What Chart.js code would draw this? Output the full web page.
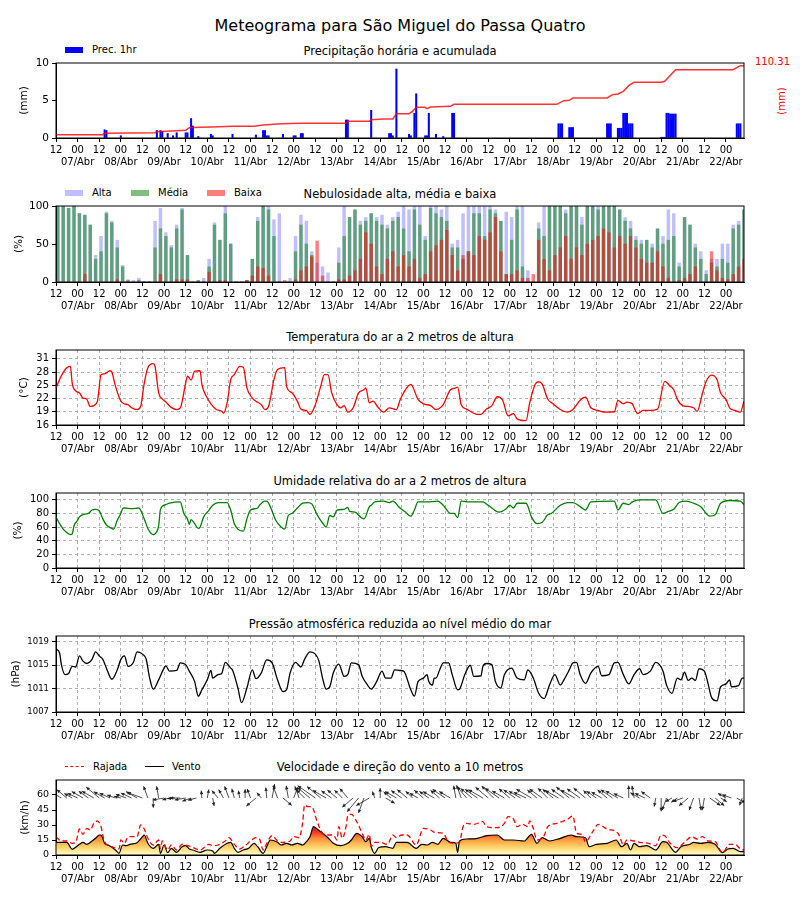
<!DOCTYPE html>
<html lang="pt">
<head>
<meta charset="utf-8">
<title>Meteograma</title>
<script src="https://cdn.jsdelivr.net/npm/chart.js@4.4.1/dist/chart.umd.min.js"></script>
<style>
  body { margin: 0; background: #fff; font-family: "DejaVu Sans", sans-serif; color: #000; }
  #page { position: relative; width: 800px; height: 900px; overflow: hidden; }
  canvas { position: absolute; left: 0; }
  .title { position: absolute; left: 0; width: 800px; text-align: center; white-space: nowrap; }
  .main { top: 15px; font-size: 16px; line-height: 22px; }
  .panel { font-size: 11.5px; line-height: 14px; }
  .legend { position: absolute; font-size: 10px; line-height: 12px; white-space: nowrap; }
  .swatch { position: absolute; width: 18px; height: 6px; }
  .stroke { position: absolute; width: 19px; height: 0; }
</style>
</head>
<body>
<div id="page">
  <div class="title main">Meteograma para São Miguel do Passa Quatro</div>

  <div class="title panel" style="top:44px">Precipitação horária e acumulada</div>
  <div class="swatch" style="left:65px;top:47px;background:#0000ff"></div>
  <div class="legend" style="left:92px;top:44px">Prec. 1hr</div>
  <div id="accTotal" class="legend" style="left:755px;top:56px;color:#ff0000"></div>
  <div class="legend" style="left:767px;top:95px;width:30px;text-align:center;color:#ff0000;transform:rotate(-90deg)">(mm)</div>
  <canvas id="precipChart" width="800" height="125" style="top:53px"></canvas>

  <div class="title panel" style="top:187px">Nebulosidade alta, média e baixa</div>
  <div class="swatch" style="left:65px;top:190px;background:rgba(0,0,255,0.25)"></div>
  <div class="legend" style="left:92px;top:187px">Alta</div>
  <div class="swatch" style="left:131px;top:190px;background:rgba(0,128,0,0.5)"></div>
  <div class="legend" style="left:158px;top:187px">Média</div>
  <div class="swatch" style="left:207px;top:190px;background:rgba(255,0,0,0.5)"></div>
  <div class="legend" style="left:234px;top:187px">Baixa</div>
  <canvas id="cloudChart" width="800" height="126" style="top:196px"></canvas>

  <div class="title panel" style="top:330px">Temperatura do ar a 2 metros de altura</div>
  <canvas id="tempChart" width="800" height="125" style="top:340px"></canvas>

  <div class="title panel" style="top:474px">Umidade relativa do ar a 2 metros de altura</div>
  <canvas id="humidChart" width="800" height="125" style="top:483px"></canvas>

  <div class="title panel" style="top:617px">Pressão atmosférica reduzida ao nível médio do mar</div>
  <canvas id="pressChart" width="800" height="126" style="top:626px"></canvas>

  <div class="title panel" style="top:760px">Velocidade e direção do vento a 10 metros</div>
  <div class="stroke" style="left:65px;top:766px;border-top:1.5px dashed #ff0000"></div>
  <div class="legend" style="left:93px;top:761px">Rajada</div>
  <div class="stroke" style="left:145px;top:766px;border-top:1.5px solid #000"></div>
  <div class="legend" style="left:172px;top:761px">Vento</div>
  <canvas id="windChart" width="800" height="125" style="top:770px"></canvas>
</div>

<script>
// time axis: hours since 07/Abr 12h
const LAST_HOUR = 382;
const hourLabels = ["12", "00"];
const dayLabels = ["07/Abr", "08/Abr", "09/Abr", "10/Abr", "11/Abr", "12/Abr", "13/Abr", "14/Abr",
  "15/Abr", "16/Abr", "17/Abr", "18/Abr", "19/Abr", "20/Abr", "21/Abr", "22/Abr"];

// [hour, mm]
const precipHourly = [[27,1.1],[28,1.0],[36,0.3],[56,1.0],[58,1.0],[59,0.9],[62,0.6],[65,0.3],[67,0.7],
  [72,0.7],[73,0.7],[75,2.6],[76,1.6],[79,0.2],[86,0.5],[87,0.3],[98,0.5],[111,0.4],[115,1.0],[116,1.0],
  [117,0.3],[118,0.3],[126,0.5],[132,0.3],[133,0.3],[136,0.6],[137,0.6],[161,2.4],[162,2.4],[175,3.7],
  [185,0.6],[186,0.6],[187,0.3],[189,9.2],[196,0.5],[197,0.3],[199,3.3],[200,5.9],[205,0.3],[206,0.3],
  [207,3.3],[211,0.5],[215,0.2],[220,3.3],[221,3.3],[279,1.9],[280,1.9],[281,1.9],[285,1.4],[286,1.4],
  [287,1.4],[306,1.9],[307,1.9],[308,1.9],[312,1.3],[313,1.3],[314,1.3],[315,3.3],[316,3.3],[317,3.3],
  [318,1.9],[319,1.9],[320,1.9],[336,0.1],[337,0.1],[338,0.1],[339,3.3],[340,3.3],[341,3.2],[342,3.2],
  [343,3.2],[344,3.2],[378,1.9],[379,1.9],[380,1.9]];

// [hour, accumulated mm]
const precipAccum = [[0,5.1],[26,5.1],[27,7.1],[55,8.1],[56,9.7],[72,11.7],[74,15.8],[80,16.3],[87,16.8],
  [98,17.8],[110,17.8],[115,19.8],[125,21.9],[136,22.4],[161,22.4],[162,25.4],[174,25.4],[175,27.9],
  [182,29.0],[187,29.0],[189,37.1],[196,37.1],[198,40.7],[200,46.8],[205,46.8],[206,44.7],[208,47.3],
  [219,48.3],[221,51.4],[278,51.4],[282,57.0],[285,57.4],[287,61.0],[306,61.0],[309,66.1],[312,67.1],
  [315,71.2],[318,79.8],[321,84.9],[336,84.9],[338,86.5],[344,104.2],[376,104.2],[380,110.3],[382,110.31]];

// cloud cover (%), one value every 3 hours
const cloudHigh = [100,100,97,100,90,88,75,35,60,92, 80,55,22,3,2,5,0,0,80,97,
  65,48,75,97,35,0,2,5,30,78, 55,100,50,0,0,2,30,85,100,100, 82,90,0,5,60,88,80,40,25,20,
  12,0,45,100,85,95,80,85,90,85, 88,75,85,92,
  100,95,100,100,60,100,100,95,100,50, 55,90,100,100,100,100,100,95,80,92,
  85,100,100,15,0,78,100,100,100,100, 95,100,100,85,100,100,100,100,100,100,
  95,85,80,60,55,55,50,70,60,95, 90,25,85,75,50,40,15,30,30,50, 50,75,80,95];
const cloudMedium = [100,100,97,100,90,88,75,30,40,90, 78,45,20,2,0,2,0,0,45,70,
  60,45,70,95,35,0,2,0,20,75, 55,90,50,0,0,2,30,80,100,95, 60,0,0,0,40,75,50,35,0,0,
  0,0,25,60,85,95,75,80,90,80, 75,70,80,85,
  70,40,95,75,55,97,90,85,80,45, 45,30,40,90,90,60,95,90,80,10,
  55,95,20,0,0,70,60,100,100,100, 90,100,100,75,100,100,95,100,100,100,
  95,80,70,55,50,55,45,70,50,55, 60,20,85,75,45,30,10,25,20,30, 25,70,75,95];
const cloudLow = [0,0,0,0,0,10,0,0,0,0, 0,3,0,0,0,0,0,0,0,10,
  0,0,3,3,3,0,0,0,13,0, 2,2,0,0,0,2,8,20,18,8, 0,0,2,0,3,15,20,33,54,8,
  0,0,3,3,8,15,30,65,50,20, 10,30,40,20,
  35,20,30,5,10,40,48,55,68,35, 15,35,40,35,60,55,65,85,40,10,
  10,15,5,5,10,55,30,15,35,45, 60,30,45,35,50,55,60,70,65,45,
  60,50,60,45,30,25,25,40,20,5, 0,2,5,10,20,0,0,40,15,5, 3,10,20,30];

// [hour, °C]
const temperature = [[0,24.4],[3,27.2],[6,29.0],[8,29.3],[9,25.5],[11,23.7],[13,23.3],[15,22.1],[17,21.9],
  [19,20.2],[21,20.4],[23,21.4],[25,27.4],[27,27.6],[30,28.3],[31,28.0],[33,24.8],[36,21.4],[38,20.8],
  [40,20.6],[42,19.9],[45,19.5],[47,20.2],[49,25.5],[51,29.0],[54,29.9],[55,29.3],[57,23.3],[59,21.9],
  [61,21.2],[64,20.0],[67,19.5],[69,19.9],[72,25.5],[73,27.1],[75,26.2],[77,28.2],[80,28.3],[81,25.2],
  [84,22.1],[86,20.8],[89,19.5],[92,19.1],[93,18.7],[95,21.0],[97,26.3],[99,27.4],[102,29.3],[104,29.1],
  [106,24.4],[109,22.1],[111,21.4],[114,20.6],[116,19.5],[118,20.2],[121,26.3],[123,28.6],[127,29.0],
  [128,24.8],[131,23.3],[134,21.4],[136,19.6],[139,19.3],[141,18.4],[144,20.6],[147,24.8],[149,27.4],
  [151,27.4],[153,23.4],[156,20.6],[158,19.9],[160,20.4],[162,18.9],[165,19.9],[168,23.3],[171,24.0],
  [172,24.4],[174,21.0],[176,21.4],[179,19.9],[182,18.9],[185,19.9],[189,19.5],[191,21.6],[193,23.3],
  [197,25.2],[201,21.8],[204,20.8],[208,20.4],[211,19.5],[215,20.6],[219,24.0],[222,24.4],[223,24.6],
  [225,20.6],[228,19.6],[234,18.4],[236,18.4],[239,19.6],[242,20.4],[245,22.4],[248,21.6],[251,18.1],
  [254,18.6],[256,17.4],[261,17.0],[263,21.0],[266,25.2],[268,25.8],[270,25.2],[273,21.9],[276,20.8],
  [280,19.5],[284,18.9],[287,19.5],[291,21.6],[294,22.3],[297,19.9],[301,19.3],[305,18.9],[310,19.0],
  [312,21.6],[315,20.8],[317,21.2],[320,20.8],[321,19.9],[323,18.6],[326,19.3],[330,19.3],[334,19.6],
  [338,25.9],[341,24.8],[343,24.0],[345,21.8],[348,20.4],[351,20.2],[354,19.9],[356,19.1],[359,23.3],
  [361,25.9],[364,27.3],[367,26.3],[369,23.3],[372,21.8],[374,19.9],[377,19.3],[380,18.9],[382,21.4]];

// [hour, %]
const humidity = [[0,75],[2,65],[4,57],[6,52],[8,49],[9,50],[10,62],[12,70],[13,75],[16,79],[18,80],
  [20,85],[22,86],[24,84],[26,72],[28,63],[31,58],[32,57],[34,70],[36,80],[37,87],[38,88],[42,87],
  [46,88],[49,72],[51,58],[54,49],[55,50],[57,62],[58,86],[61,93],[63,95],[69,97],[71,80],[73,72],
  [74,64],[75,71],[77,65],[79,58],[80,60],[82,75],[85,85],[87,92],[90,96],[95,96],[97,85],[99,65],
  [101,57],[104,54],[106,72],[108,85],[112,88],[113,92],[116,98],[117,98],[119,90],[122,70],[125,60],
  [127,57],[129,77],[131,80],[134,88],[137,95],[140,96],[142,94],[145,78],[148,66],[150,60],[152,77],
  [154,75],[156,85],[160,86],[162,89],[163,83],[166,82],[169,75],[171,72],[174,90],[175,92],[177,97],
  [182,98],[185,96],[187,98],[191,88],[194,82],[197,76],[199,85],[201,97],[206,97],[212,98],[215,92],
  [219,80],[221,80],[223,74],[225,98],[230,97],[237,97],[240,92],[246,82],[250,87],[252,92],[254,88],
  [256,95],[261,95],[264,75],[267,65],[270,67],[273,78],[275,80],[280,92],[284,96],[287,96],[291,90],
  [294,85],[297,97],[310,98],[312,85],[315,95],[318,93],[320,97],[324,100],[333,100],[337,80],[340,83],
  [343,86],[346,96],[350,98],[354,95],[358,90],[361,80],[363,76],[366,78],[369,95],[374,99],[380,98],
  [382,93]];

// [hour, hPa]
const pressure = [[0,1017.8],[2,1017.1],[3,1015.1],[5,1013.4],[7,1013.6],[9,1014.8],[11,1014.7],
  [13,1016.6],[15,1015.7],[17,1015.3],[20,1016.0],[22,1017.3],[24,1016.6],[26,1016.0],[28,1014.5],
  [31,1012.6],[34,1014.2],[36,1016.0],[38,1016.6],[40,1014.8],[43,1015.5],[45,1017.3],[48,1016.9],
  [50,1016.1],[52,1012.8],[54,1010.9],[57,1012.5],[60,1014.5],[61,1014.9],[63,1014.0],[67,1014.1],
  [69,1015.4],[72,1015.1],[74,1014.0],[77,1012.2],[79,1009.7],[81,1010.8],[84,1012.5],[86,1014.1],
  [87,1012.8],[90,1013.4],[92,1013.6],[94,1015.5],[97,1014.5],[98,1014.2],[101,1011.1],[103,1008.6],
  [106,1011.1],[109,1014.2],[111,1012.7],[114,1013.7],[117,1015.9],[120,1015.4],[123,1012.5],
  [126,1010.5],[128,1010.8],[130,1013.7],[133,1015.5],[136,1014.7],[138,1016.0],[141,1017.3],
  [144,1016.9],[146,1015.7],[148,1012.8],[150,1010.9],[152,1011.3],[154,1013.7],[157,1015.2],
  [160,1013.1],[162,1013.4],[164,1015.4],[168,1015.1],[170,1013.1],[173,1011.6],[175,1010.9],
  [178,1012.2],[181,1014.0],[183,1012.8],[186,1012.8],[188,1014.2],[191,1014.1],[193,1014.0],
  [197,1010.8],[199,1009.7],[201,1012.2],[204,1012.8],[206,1013.4],[207,1012.2],[209,1011.6],
  [210,1012.8],[211,1012.8],[213,1014.2],[215,1015.4],[218,1015.4],[220,1013.4],[223,1010.8],
  [224,1010.9],[227,1013.4],[230,1015.0],[232,1013.1],[236,1013.2],[237,1014.8],[239,1015.3],
  [242,1015.1],[244,1012.2],[247,1011.1],[249,1013.4],[253,1014.5],[256,1012.8],[260,1012.5],
  [262,1014.2],[265,1012.8],[268,1010.2],[271,1009.3],[274,1011.6],[277,1013.4],[280,1011.6],
  [282,1012.5],[285,1014.2],[287,1015.4],[289,1015.5],[291,1013.4],[294,1011.9],[297,1013.7],
  [301,1014.8],[303,1013.2],[307,1013.4],[310,1015.4],[312,1015.5],[315,1013.4],[318,1011.8],
  [321,1013.4],[324,1014.4],[326,1013.4],[330,1014.0],[333,1015.5],[337,1014.0],[339,1011.6],
  [342,1010.2],[345,1012.8],[347,1012.5],[349,1013.8],[351,1012.4],[353,1012.8],[355,1012.4],
  [357,1014.4],[360,1014.0],[362,1011.9],[364,1009.5],[367,1008.9],[369,1011.3],[372,1011.8],
  [374,1012.5],[375,1011.3],[379,1011.5],[381,1012.8],[382,1012.8]];

// [hour, km/h]
const windSpeed = [[0,12.7],[3,12.7],[6,12.7],[9,5.7],[12,9.3],[13,10.7],[15,12.7],[17,10.7],[20,14],
  [22,16.7],[24,20],[25,20],[27,11.7],[29,10],[33,5],[35,1.7],[37,10],[39,9.3],[41,10.7],[45,12.3],
  [48,18.3],[49,20],[51,11.7],[54,6.7],[57,10.7],[58,1.7],[60,10],[62,2.3],[64,6.7],[67,2.7],[70,8.3],
  [72,9.3],[74,6],[76,5],[80,2.7],[84,5],[87,4],[88,1.7],[91,6.7],[95,11.7],[97,12.7],[99,6.7],
  [101,2.7],[104,5],[107,6.7],[110,11.7],[112,8.3],[115,1.7],[117,8.3],[119,15],[123,12.7],[125,10],
  [128,11.7],[131,10],[134,11.7],[137,10],[139,13.3],[141,18.3],[143,28.3],[145,26],[148,21.7],
  [151,17.3],[154,11.7],[158,9.3],[162,11.7],[164,15],[167,21.7],[170,18.3],[172,13.3],[174,16.7],
  [175,8.3],[177,1.7],[179,7.3],[183,8.3],[187,6.7],[189,12.7],[195,12.7],[200,6.7],[203,10.7],
  [206,10],[209,12.7],[212,10.7],[215,16.7],[219,12.7],[222,11.7],[223,2.7],[224,14],[228,16],
  [234,16.7],[239,19.3],[245,20],[249,15],[254,15],[260,14],[264,20.7],[267,11.7],[270,17.3],[274,14],
  [280,16.7],[286,20],[289,18.3],[294,17.3],[296,8.3],[300,10.7],[306,11.7],[311,15],[314,8.3],
  [317,11.7],[319,5],[321,11.7],[324,8.3],[328,9.3],[333,5],[337,13.3],[339,12.7],[344,2.7],[347,8.3],
  [352,10.7],[354,12.7],[358,11.7],[362,12.7],[366,10.7],[370,2.3],[373,6],[376,6.7],[380,3.3],[382,3.3]];

const windGust = [[0,18.3],[3,14],[6,14],[9,11.7],[11,12.7],[13,26],[15,20.7],[17,26.7],[19,25],
  [21,31.7],[23,34],[25,28.3],[26,20],[27,13.3],[31,8.3],[35,6],[36,15],[38,11.7],[40,18.3],[45,18.3],
  [47,30],[49,26],[51,16.7],[54,10],[57,15],[58,6.7],[59,14],[62,5],[64,10],[67,5],[70,10.7],[73,9.3],
  [75,8.3],[80,5],[85,10.7],[87,9.3],[90,10],[94,14],[96,17.3],[99,10.7],[102,6],[105,9.3],[108,14],
  [111,17.3],[113,16],[115,5],[117,11.7],[120,19.3],[123,14],[126,12.7],[130,14],[132,18.3],
  [135,17.3],[137,33.3],[138,50],[140,48.3],[142,48.3],[145,33.3],[148,21.7],[151,20],[154,20],
  [156,15],[157,28.3],[159,16.7],[161,28.3],[162,39.3],[164,40.7],[167,33.3],[170,21.7],[172,15],
  [174,20.7],[175,8.3],[177,12.7],[180,12.7],[184,10.7],[187,20],[189,17.3],[192,20],[195,20],
  [200,10],[204,26.7],[208,25],[210,22.7],[215,21.7],[218,12.7],[221,11.7],[224,12.7],[226,28.3],
  [228,31.7],[232,30.7],[237,33.3],[239,28.3],[245,27.3],[249,31.7],[251,38.3],[254,36],[256,28.3],
  [259,30.7],[262,28.3],[263,34],[265,26.7],[267,15],[271,19.3],[273,28.3],[278,31.7],[284,35.7],
  [287,39],[289,21.7],[292,20.7],[294,13.3],[298,23.3],[301,30.7],[306,26],[312,21.7],[313,18.3],
  [315,10],[317,15],[321,14],[324,12.7],[329,11.7],[333,9.3],[336,20],[338,19.3],[341,11.7],[345,7.3],
  [349,12.7],[353,18.3],[356,16],[359,18.3],[362,14],[366,13.3],[370,2.3],[374,10.7],[377,10.7],
  [380,6],[382,5]];

// direction the arrow points to (degrees, 0 = up), one every 3 hours
const windDirection = [305,300,310,300,295,300,305,300,310, 300,295,290,285,290,295,300,290,
  340,180,350, 260,255,265,270,260,250,255, 355,10,170,320, 330,340,345,350,0,340,230,320,
  355,10,340,130,350,20,340, 315,310,305,310,300,305,310,315,320, 230,220,200,240,
  340,0,120,310,300,
  305,310,315,300,310,305,300,310,305,300, 350,340,320,
  310,305,300,310,315,305,300,310,305,300,295,300,310,305,315,310,300,305,310,300,305,310,315,305,
  300,310,305,300,295, 0,350, 300,295,305,
  190,180,200,240,235,250,230,200,170,190,125,130,120,300,290,120,200];

const tickHours = Array.from({ length: dayLabels.length * 2 }, (_, i) => i * 12);

function toPoints(pairs) {
  return pairs.map(([x, y]) => ({ x, y }));
}

function everyThreeHours(values) {
  return values.map((y, i) => ({ x: i * 3 + 1, y }));
}

function tickLabel(value) {
  const i = Math.round(value / 12);
  return i % 2 === 0 ? [hourLabels[0], ""] : [hourLabels[1], dayLabels[(i - 1) / 2]];
}

function nearestValue(pairs, hour) {
  let best = pairs[0];
  pairs.forEach((p) => {
    if (Math.abs(p[0] - hour) < Math.abs(best[0] - hour)) best = p;
  });
  return best[1];
}

Chart.defaults.font.family = "'DejaVu Sans', sans-serif";
Chart.defaults.color = "#000";

const framePlugin = {
  id: "frame",
  afterDraw(chart) {
    const { ctx, chartArea: a } = chart;
    ctx.save();
    ctx.strokeStyle = "#000";
    ctx.lineWidth = 1;
    ctx.strokeRect(a.left, a.top, a.right - a.left, a.bottom - a.top);
    ctx.restore();
  },
};

const arrowPlugin = {
  id: "windArrows",
  afterDatasetsDraw(chart) {
    const { ctx, scales, chartArea: a } = chart;
    const y0 = scales.y.getPixelForValue(57);
    ctx.save();
    ctx.beginPath();
    ctx.rect(a.left, a.top, a.right - a.left, a.bottom - a.top);
    ctx.clip();
    ctx.strokeStyle = "#222";
    ctx.fillStyle = "#222";
    ctx.lineWidth = 0.8;
    windDirection.forEach((deg, i) => {
      const hour = i * 3;
      const x0 = scales.x.getPixelForValue(hour);
      const len = 6 + nearestValue(windSpeed, hour) * 0.55;
      const rad = (deg * Math.PI) / 180;
      const ux = Math.sin(rad);
      const uy = -Math.cos(rad);
      const x1 = x0 + ux * len;
      const y1 = y0 + uy * len;
      ctx.beginPath();
      ctx.moveTo(x0, y0);
      ctx.lineTo(x1, y1);
      ctx.stroke();
      ctx.beginPath();
      ctx.moveTo(x1, y1);
      ctx.lineTo(x1 - ux * 3.5 - uy * 1.7, y1 - uy * 3.5 + ux * 1.7);
      ctx.lineTo(x1 - ux * 3.5 + uy * 1.7, y1 - uy * 3.5 - ux * 1.7);
      ctx.closePath();
      ctx.fill();
    });
    ctx.restore();
  },
};

function timeAxis(withGrid) {
  return {
    type: "linear",
    min: 0,
    max: LAST_HOUR,
    offset: false,
    afterBuildTicks: (scale) => {
      scale.ticks = tickHours.map((value) => ({ value }));
    },
    afterFit: (scale) => {
      scale.height = 40;
    },
    ticks: {
      autoSkip: false,
      maxRotation: 0,
      minRotation: 0,
      padding: 2,
      font: { size: 10 },
      callback: (value) => tickLabel(value),
    },
    grid: { offset: false, drawOnChartArea: withGrid, color: "#b0b0b0", tickColor: "#000", tickLength: 4 },
    border: { color: "#000", dash: withGrid ? [3, 3] : [] },
  };
}

function valueAxis({ min, max, ticks, label, titlePad, size, withGrid }) {
  return {
    type: "linear",
    position: "left",
    min,
    max,
    afterBuildTicks: (scale) => {
      scale.ticks = ticks.map((value) => ({ value }));
    },
    afterFit: (scale) => {
      scale.width = 56;
    },
    ticks: { padding: 3, font: { size }, callback: (value) => String(value) },
    grid: { drawOnChartArea: withGrid, color: "#b0b0b0", tickColor: "#000", tickLength: 4 },
    border: { color: "#000", dash: withGrid ? [3, 3] : [] },
    title: { display: true, text: label, font: { size: 10.5 }, padding: { top: titlePad, bottom: 0 } },
  };
}

function baseOptions(scales) {
  return {
    responsive: false,
    animation: false,
    layout: { padding: { top: 10, right: 56, bottom: 0, left: 0 } },
    plugins: { legend: { display: false }, tooltip: { enabled: false } },
    scales,
  };
}

function lineSet(label, pairs, color, width) {
  return {
    label,
    data: toPoints(pairs),
    borderColor: color,
    borderWidth: width,
    pointRadius: 0,
    cubicInterpolationMode: "monotone",
    fill: false,
  };
}

function windGradient(chart) {
  const { ctx, chartArea, scales } = chart;
  if (!chartArea) return "#fed976";
  const g = ctx.createLinearGradient(0, scales.y.getPixelForValue(0), 0, scales.y.getPixelForValue(28));
  g.addColorStop(0, "#ffffcc");
  g.addColorStop(0.25, "#fed976");
  g.addColorStop(0.45, "#feb24c");
  g.addColorStop(0.6, "#fd8d3c");
  g.addColorStop(0.8, "#f03b20");
  g.addColorStop(1, "#d7191c");
  return g;
}

document.getElementById("accTotal").textContent = precipAccum[precipAccum.length - 1][1].toFixed(2);

new Chart(document.getElementById("precipChart"), {
  type: "bar",
  data: {
    datasets: [
      {
        type: "line",
        label: "Acumulada",
        data: toPoints(precipAccum),
        yAxisID: "yAcc",
        borderColor: "rgba(255,0,0,0.8)",
        borderWidth: 1.5,
        pointRadius: 0,
        tension: 0,
      },
      {
        label: "Prec. 1hr",
        data: toPoints(precipHourly),
        yAxisID: "y",
        backgroundColor: "#0000ff",
        barThickness: 1.4,
        grouped: false,
      },
    ],
  },
  options: baseOptions({
    x: timeAxis(false),
    y: valueAxis({ min: 0, max: 10, ticks: [0, 5, 10], label: "(mm)", titlePad: 18, size: 10.5, withGrid: false }),
    yAcc: { type: "linear", position: "right", display: false, min: 0, max: 114.4 },
  }),
  plugins: [framePlugin],
});

new Chart(document.getElementById("cloudChart"), {
  type: "bar",
  data: {
    datasets: [
      { label: "Baixa", data: everyThreeHours(cloudLow), backgroundColor: "rgba(255,0,0,0.5)", order: 1 },
      { label: "Média", data: everyThreeHours(cloudMedium), backgroundColor: "rgba(0,128,0,0.5)", order: 2 },
      { label: "Alta", data: everyThreeHours(cloudHigh), backgroundColor: "rgba(0,0,255,0.25)", order: 3 },
    ].map((d) => ({ ...d, barThickness: 2.8, grouped: false })),
  },
  options: baseOptions({
    x: timeAxis(false),
    y: valueAxis({ min: 0, max: 100, ticks: [0, 50, 100], label: "(%)", titlePad: 13, size: 10.5, withGrid: false }),
  }),
  plugins: [framePlugin],
});

new Chart(document.getElementById("tempChart"), {
  type: "line",
  data: { datasets: [lineSet("Temperatura", temperature, "#ff0000", 1.3)] },
  options: baseOptions({
    x: timeAxis(true),
    y: valueAxis({ min: 16, max: 33, ticks: [16, 19, 22, 25, 28, 31], label: "(°C)", titlePad: 18, size: 10, withGrid: true }),
  }),
  plugins: [framePlugin],
});

new Chart(document.getElementById("humidChart"), {
  type: "line",
  data: { datasets: [lineSet("Umidade", humidity, "#008000", 1.3)] },
  options: baseOptions({
    x: timeAxis(true),
    y: valueAxis({ min: 0, max: 110, ticks: [0, 20, 40, 60, 80, 100], label: "(%)", titlePad: 12, size: 10, withGrid: true }),
  }),
  plugins: [framePlugin],
});

new Chart(document.getElementById("pressChart"), {
  type: "line",
  data: { datasets: [lineSet("Pressão", pressure, "#000000", 1.3)] },
  options: baseOptions({
    x: timeAxis(true),
    y: valueAxis({ min: 1007, max: 1020, ticks: [1007, 1011, 1015, 1019], label: "(hPa)", titlePad: 10, size: 8.5, withGrid: true }),
  }),
  plugins: [framePlugin],
});

new Chart(document.getElementById("windChart"), {
  type: "line",
  data: {
    datasets: [
      { ...lineSet("Rajada", windGust, "#ff0000", 1.3), borderDash: [5, 3] },
      {
        ...lineSet("Vento", windSpeed, "#000000", 1.2),
        fill: "origin",
        backgroundColor: (context) => windGradient(context.chart),
      },
    ],
  },
  options: baseOptions({
    x: timeAxis(false),
    y: valueAxis({ min: 0, max: 75, ticks: [0, 15, 30, 45, 60], label: "(km/h)", titlePad: 19, size: 9.5, withGrid: false }),
  }),
  plugins: [framePlugin, arrowPlugin],
});
</script>
</body>
</html>
